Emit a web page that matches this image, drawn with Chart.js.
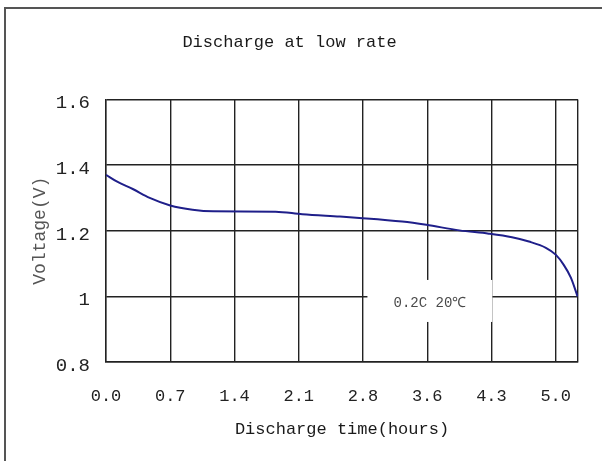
<!DOCTYPE html>
<html>
<head>
<meta charset="utf-8">
<script src="https://cdn.jsdelivr.net/npm/chart.js@4"></script>
<style>
  html, body { margin: 0; padding: 0; background: #fff; }
  #wrap { width: 602px; height: 461px; }
</style>
</head>
<body>
<div id="wrap"><canvas id="dischargeChart" width="602" height="461"></canvas></div>
<script>
// discharge curve (hours, volts)
const hours =   [0, 0.12, 0.30, 0.49, 0.72, 0.97, 1.20, 1.90, 2.20, 2.62, 2.84, 3.32, 3.59, 3.96, 4.29, 4.55, 4.74, 4.93, 5.04, 5.13, 5.21, 5.285];
const voltage = [1.37, 1.35, 1.327, 1.30, 1.277, 1.264, 1.259, 1.258, 1.250, 1.243, 1.239, 1.228, 1.218, 1.201, 1.191, 1.18, 1.167, 1.148, 1.127, 1.096, 1.057, 1.0];

const xTicks = [0, 0.72, 1.44, 2.16, 2.88, 3.60, 4.32, 5.04];
const xTickLabels = ["0.0", "0.7", "1.4", "2.1", "2.8", "3.6", "4.3", "5.0"];
const xMax = 5.29;

const yTicks = [0.8, 1.0, 1.2, 1.4, 1.6];
const yTickLabels = ["0.8", "1", "1.2", "1.4", "1.6"];

const noteText = "0.2C 20℃";

const FONT = "'Liberation Mono', 'DejaVu Sans Mono', monospace";
const GRID = "#222";

// white label box over the grid, lower right of the plot
const notePlugin = {
    id: "noteBox",
    beforeDatasetsDraw(chart) {
        const ctx = chart.ctx;
        const x = chart.scales.x, y = chart.scales.y;
        const left = x.getPixelForValue(2.93), right = x.getPixelForValue(4.33);
        const top = y.getPixelForValue(1.05), bottom = y.getPixelForValue(0.922);
        ctx.save();
        ctx.fillStyle = "#fff";
        ctx.fillRect(left, top, right - left, bottom - top);
        ctx.fillStyle = "#4a4a4a";
        ctx.font = "14px " + FONT;
        ctx.textAlign = "center";
        ctx.textBaseline = "middle";
        ctx.fillText(noteText, (left + right) / 2, (top + bottom) / 2 + 2);
        ctx.restore();
    }
};

// frame lines along the top and left of the picture
const framePlugin = {
    id: "frame",
    beforeDraw(chart) {
        const ctx = chart.ctx;
        ctx.save();
        ctx.fillStyle = "#fff";
        ctx.fillRect(0, 0, chart.width, chart.height);
        ctx.strokeStyle = "#555";
        ctx.lineWidth = 2;
        ctx.beginPath();
        ctx.moveTo(5, chart.height);
        ctx.lineTo(5, 8);
        ctx.lineTo(chart.width, 8);
        ctx.stroke();
        ctx.restore();
    }
};

const ctx = document.getElementById("dischargeChart").getContext("2d");
const chart = new Chart(ctx, {
    type: "line",
    data: {
        datasets: [{
            data: hours.map((h, i) => ({ x: h, y: voltage[i] })),
            borderColor: "#1f1f8a",
            borderWidth: 2,
            pointRadius: 0,
            cubicInterpolationMode: "monotone",
            fill: false
        }]
    },
    options: {
        responsive: false,
        animation: false,
        layout: { padding: { top: 0, left: 0, right: 23, bottom: 0 } },
        plugins: {
            legend: { display: false },
            tooltip: { enabled: false },
            title: {
                display: true,
                text: "Discharge at low rate",
                color: "#1a1a1a",
                font: { family: FONT, size: 17, weight: "normal" },
                padding: { top: 32, bottom: 47 }
            }
        },
        scales: {
            x: {
                type: "linear",
                min: 0,
                max: xMax,
                afterFit: (scale) => { scale.height = 99; },
                afterBuildTicks: (scale) => {
                    scale.ticks = xTicks.concat([xMax]).map(v => ({ value: v }));
                },
                ticks: {
                    padding: 24,
                    color: "#222",
                    maxRotation: 0,
                    font: { family: FONT, size: 17 },
                    callback: (value, index) => xTickLabels[index] ?? ""
                },
                grid: { color: GRID, lineWidth: 1.4, drawTicks: false },
                border: { color: GRID, width: 1.4 },
                title: {
                    display: true,
                    text: "Discharge time(hours)",
                    color: "#1a1a1a",
                    font: { family: FONT, size: 17 },
                    padding: { top: 0, bottom: 21 }
                }
            },
            y: {
                min: 0.8,
                max: 1.6,
                afterFit: (scale) => { scale.width = 106; },
                afterBuildTicks: (scale) => {
                    scale.ticks = yTicks.map(v => ({ value: v }));
                },
                ticks: {
                    padding: 16,
                    labelOffset: 4,
                    color: "#222",
                    font: { family: FONT, size: 19 },
                    callback: (value, index) => yTickLabels[index]
                },
                grid: { color: GRID, lineWidth: 1.4, drawTicks: false },
                border: { color: GRID, width: 1.4 },
                title: {
                    display: true,
                    text: "Voltage(V)",
                    color: "#555",
                    font: { family: FONT, size: 18 },
                    padding: { top: 29, bottom: 0 }
                }
            }
        }
    },
    plugins: [framePlugin, notePlugin]
});
</script>
</body>
</html>
